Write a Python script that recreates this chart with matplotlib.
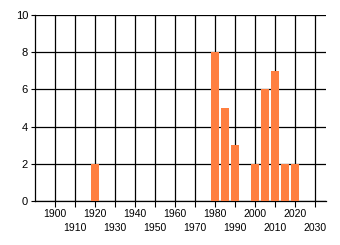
import matplotlib
matplotlib.use('Agg')
import matplotlib.pyplot as plt

years = [1920, 1980, 1985, 1990, 2000, 2005, 2010, 2015, 2020]
counts = [2, 8, 5, 3, 2, 6, 7, 2, 2]

major_years = [1900, 1920, 1940, 1960, 1980, 2000, 2020]
minor_years = [1910, 1930, 1950, 1970, 1990, 2010, 2030]
y_ticks = [0, 2, 4, 6, 8, 10]

plt.rcParams['font.family'] = ['Liberation Sans', 'DejaVu Sans']

fig = plt.figure(figsize=(3.4, 2.45), dpi=100)
ax = fig.add_axes([35 / 340, 44 / 245, 291 / 340, 186 / 245])

ax.bar(years, counts, width=4, color='#FF7F40', zorder=3)

ax.set_xlim(1890, 2035.5)
ax.set_ylim(0, 10)

ax.set_xticks(major_years)
ax.set_xticklabels([str(y) for y in major_years])
ax.set_xticks(minor_years, minor=True)
ax.set_xticklabels([str(y) for y in minor_years], minor=True)
ax.set_yticks(y_ticks)

ax.tick_params(axis='x', which='major', length=4, width=0.8, pad=2, labelsize=7.5)
ax.tick_params(axis='x', which='minor', length=4, width=0.8, pad=12, labelsize=7.5)
ax.tick_params(axis='y', length=3, width=0.8, pad=2, labelsize=8)

ax.grid(True, which='both', color='black', linewidth=0.9)
ax.set_axisbelow(True)

for side in ['top', 'right']:
    ax.spines[side].set_visible(False)
for side in ['left', 'bottom']:
    ax.spines[side].set_linewidth(0.9)

fig.savefig('out.png', dpi=100)
